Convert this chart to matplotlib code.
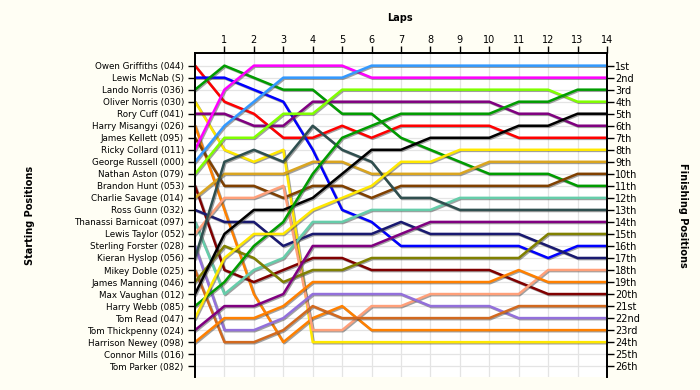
import matplotlib
matplotlib.use("Agg")
import matplotlib.pyplot as plt
import matplotlib.patheffects as pe

# grid order (lap 0 = starting position)
drivers = ["Owen Griffiths (044)", "Lewis McNab (S)", "Lando Norris (036)",
           "Oliver Norris (030)", "Rory Cuff (041)", "Harry Misangyi (026)",
           "James Kellett (095)", "Ricky Collard (011)", "George Russell (000)",
           "Nathan Aston (079)", "Brandon Hunt (053)", "Charlie Savage (014)",
           "Ross Gunn (032)", "Thanassi Barnicoat (097)", "Lewis Taylor (052)",
           "Sterling Forster (028)", "Kieran Hyslop (056)", "Mikey Doble (025)",
           "James Manning (046)", "Max Vaughan (012)", "Harry Webb (085)",
           "Tom Read (047)", "Tom Thickpenny (024)", "Harrison Newey (098)",
           "Connor Mills (016)", "Tom Parker (082)"]

finish_labels = ["1st", "2nd", "3rd", "4th", "5th", "6th", "7th", "8th", "9th",
                 "10th", "11th", "12th", "13th", "14th", "15th", "16th", "17th",
                 "18th", "19th", "20th", "21st", "22nd", "23rd", "24th", "25th",
                 "26th"]

laps = list(range(15))

# position at each lap, lap 0 .. 14
griffiths = [1, 4, 5, 7, 7, 6, 7, 6, 6, 6, 6, 7, 7, 7, 7]
mcnab = [2, 2, 3, 4, 8, 13, 14, 16, 16, 16, 16, 16, 17, 16, 16]
lando = [3, 1, 2, 3, 3, 5, 5, 7, 8, 9, 10, 10, 10, 11, 11]
oliver = [4, 8, 9, 8, 24, 24, 24, 24, 24, 24, 24, 24, 24, 24, 24]
cuff = [5, 5, 6, 6, 4, 4, 4, 4, 4, 4, 4, 5, 5, 6, 6]
misangyi = [6, 13, 20, 24, 22, 21, 23, 23, 23, 23, 23, 23, 23, 23, 23]
kellett = [7, 11, 11, 12, 11, 11, 12, 11, 11, 11, 11, 11, 11, 10, 10]
collard = [8, 3, 1, 1, 1, 1, 2, 2, 2, 2, 2, 2, 2, 2, 2]
russell = [9, 6, 4, 2, 2, 2, 1, 1, 1, 1, 1, 1, 1, 1, 1]
aston = [10, 7, 7, 5, 5, 3, 3, 3, 3, 3, 3, 3, 3, 4, 4]
hunt = [11, 18, 19, 18, 17, 17, 18, 18, 18, 18, 18, 19, 20, 20, 20]
savage = [12, 10, 10, 10, 9, 9, 10, 10, 10, 10, 9, 9, 9, 9, 9]
gunn = [13, 14, 14, 16, 15, 15, 15, 14, 15, 15, 15, 15, 16, 17, 17]
barnicoat = [14, 20, 18, 17, 14, 14, 13, 13, 13, 12, 12, 12, 12, 12, 12]
taylor = [15, 12, 12, 11, 23, 23, 21, 21, 20, 20, 20, 20, 18, 18, 18]
forster = [16, 23, 23, 22, 20, 20, 20, 20, 21, 21, 21, 22, 22, 22, 22]
hyslop = [17, 9, 8, 9, 6, 8, 9, 12, 12, 13, 13, 13, 13, 13, 13]
doble = [18, 24, 24, 23, 21, 22, 22, 22, 22, 22, 22, 21, 21, 21, 21]
manning = [19, 16, 17, 19, 18, 18, 17, 17, 17, 17, 17, 17, 15, 15, 15]
vaughan = [20, 15, 13, 13, 12, 10, 8, 8, 7, 7, 7, 6, 6, 5, 5]
webb = [21, 19, 16, 14, 10, 7, 6, 5, 5, 5, 5, 4, 4, 3, 3]
read = [22, 17, 15, 15, 13, 12, 11, 9, 9, 8, 8, 8, 8, 8, 8]
thickpenny = [23, 21, 21, 20, 16, 16, 16, 15, 14, 14, 14, 14, 14, 14, 14]
newey = [24, 22, 22, 21, 19, 19, 19, 19, 19, 19, 19, 18, 19, 19, 19]

series = [griffiths, mcnab, lando, oliver, cuff, misangyi, kellett, collard,
          russell, aston, hunt, savage, gunn, barnicoat, taylor, forster,
          hyslop, doble, manning, vaughan, webb, read, thickpenny, newey]

colours = ["#FF0000", "#0000FF", "#009C00", "#FFE800", "#800080", "#FF8000",
           "#804000", "#FF00FF", "#3399FF", "#80FF00", "#800000", "#DAA520",
           "#191970", "#66CDAA", "#FFA07A", "#9370DB", "#2F4F4F", "#D2691E",
           "#808000", "#000000", "#009C00", "#FFE800", "#800080", "#FF8000"]

plt.rcParams["font.family"] = "DejaVu Sans"

fig = plt.figure(figsize=(7, 3.9), dpi=100, facecolor="#FFFEF4")
ax = fig.add_axes([195 / 700, 13 / 390, 412 / 700, 324 / 390])
ax.set_facecolor("white")

shadow = [pe.SimpleLineShadow(offset=(0.8, -0.8), shadow_color="#444444", alpha=0.5),
          pe.Normal()]
for vals, c in zip(series, colours):
    ax.plot(laps, vals, color=c, lw=1.8, path_effects=shadow, zorder=3)

ax.set_xlim(0, 14)
ax.set_ylim(26.9, -0.05)

ax.xaxis.tick_top()
ax.set_xticks(laps[1:])
ax.set_xticklabels([str(l) for l in laps[1:]], fontsize=7)
ax.set_yticks(range(1, len(drivers) + 1))
ax.set_yticklabels(drivers, fontsize=6.3)
ax.tick_params(axis="y", length=5, width=1, pad=3)
ax.tick_params(axis="x", length=5, width=1, pad=1)
ax.grid(True, color="#E4E4E4", lw=0.9, zorder=0)

ax2 = ax.twinx()
ax2.set_ylim(ax.get_ylim())
ax2.set_yticks(range(1, len(finish_labels) + 1))
ax2.set_yticklabels(finish_labels, fontsize=7)
ax2.tick_params(axis="y", length=5, width=1, pad=1)

for a in (ax, ax2):
    a.spines["bottom"].set_visible(False)
    for s in ("left", "top", "right"):
        a.spines[s].set_linewidth(1.3)

fig.text(400 / 700, 1 - 18 / 390, "Laps", ha="center", va="center",
         fontsize=7, fontweight="bold")
fig.text(30 / 700, 1 - 215 / 390, "Starting Positions", ha="center", va="center",
         rotation=90, fontsize=7, fontweight="bold")
fig.text(683 / 700, 1 - 215 / 390, "Finishing Positions", ha="center", va="center",
         rotation=270, fontsize=7, fontweight="bold")

fig.savefig("out.png", dpi=100, facecolor=fig.get_facecolor())
